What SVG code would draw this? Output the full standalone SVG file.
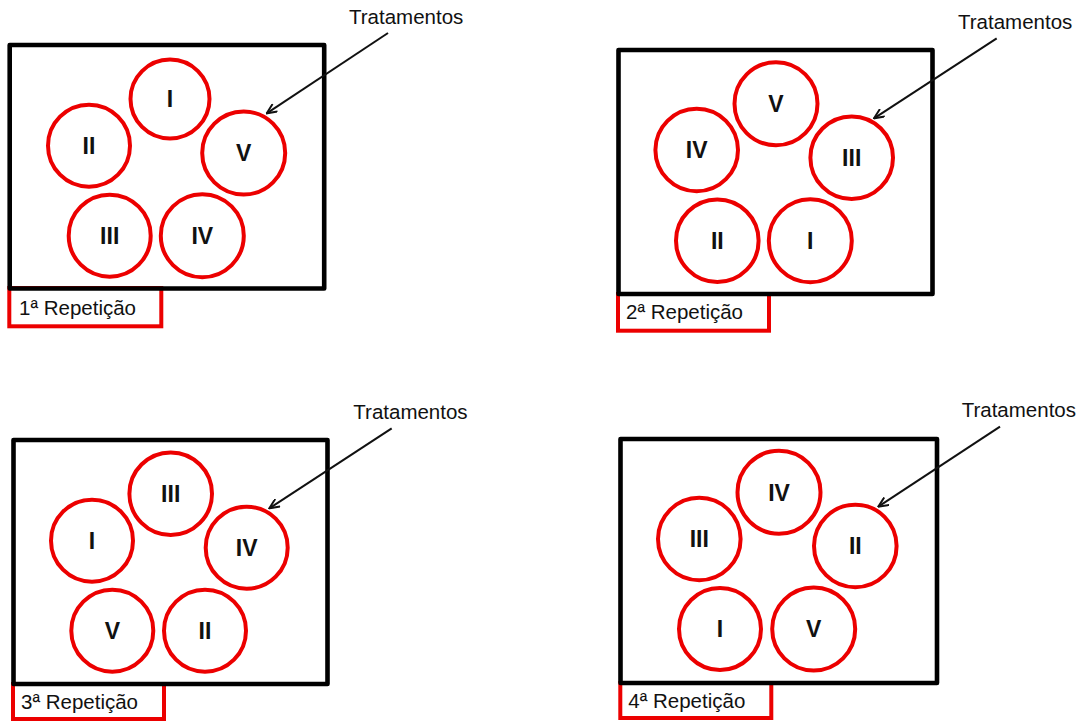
<svg xmlns="http://www.w3.org/2000/svg" width="1086" height="721" viewBox="0 0 1086 721">
  <style>
    .plot { fill: none; stroke: #000; stroke-width: 4.6; stroke-linejoin: round; }
    .tag { fill: #fff; stroke: #ec0000; stroke-width: 4; }
    .trt { fill: none; stroke: #ec0000; stroke-width: 4; }
    .num { font-family: "Liberation Sans", Arial, sans-serif; font-weight: bold; font-size: 23px; fill: #111; text-anchor: middle; }
    .lbl { font-family: "Liberation Sans", Arial, sans-serif; font-size: 20.5px; fill: #111; }
    .ptr { fill: none; stroke: #111; stroke-width: 2; marker-end: url(#barb); }
  </style>
  <defs>
    <marker id="barb" viewBox="0 0 12 10" refX="11" refY="5" markerWidth="12" markerHeight="10" markerUnits="userSpaceOnUse" orient="auto">
      <path d="M1,0.5 L11,5 L1,9.5" fill="none" stroke="#111" stroke-width="2"/>
    </marker>
  </defs>
  <rect width="1086" height="721" fill="#fff"/>

  <!-- Replicate 1 -->
  <g id="rep1">
    <rect class="tag" x="9.3" y="288" width="152" height="38.3"/>
    <text class="lbl" x="19" y="315">1ª Repetição</text>
    <rect class="plot" x="9.7" y="45" width="314.5" height="243.5"/>
    <g id="rep1-I"><circle class="trt" cx="170" cy="99" r="39.5"/><text class="num" x="170" y="107.3">I</text></g>
    <g id="rep1-II"><circle class="trt" cx="89" cy="145.7" r="41"/><text class="num" x="89" y="154">II</text></g>
    <g id="rep1-V"><circle class="trt" cx="243.7" cy="153" r="41.5"/><text class="num" x="243.7" y="161.3">V</text></g>
    <g id="rep1-III"><circle class="trt" cx="109.7" cy="235.7" r="41"/><text class="num" x="109.7" y="244">III</text></g>
    <g id="rep1-IV"><circle class="trt" cx="202.3" cy="235.7" r="41.5"/><text class="num" x="202.3" y="244">IV</text></g>
    <text class="lbl" id="rep1-title" x="349" y="24">Tratamentos</text>
  </g>

  <!-- Replicate 2 -->
  <g id="rep2">
    <rect class="tag" x="618" y="294" width="151" height="36.7"/>
    <text class="lbl" x="626" y="319">2ª Repetição</text>
    <rect class="plot" x="618.5" y="50" width="314" height="244"/>
    <g id="rep2-V"><circle class="trt" cx="776" cy="103.7" r="41.5"/><text class="num" x="776" y="112">V</text></g>
    <g id="rep2-IV"><circle class="trt" cx="696.7" cy="150" r="41.3"/><text class="num" x="696.7" y="158.3">IV</text></g>
    <g id="rep2-III"><circle class="trt" cx="851.7" cy="157.7" r="41.3"/><text class="num" x="851.7" y="166">III</text></g>
    <g id="rep2-II"><circle class="trt" cx="717.3" cy="240.7" r="41.3"/><text class="num" x="717.3" y="249">II</text></g>
    <g id="rep2-I"><circle class="trt" cx="810.3" cy="240.7" r="41.5"/><text class="num" x="810.3" y="249">I</text></g>
    <text class="lbl" id="rep2-title" x="958" y="29">Tratamentos</text>
  </g>

  <!-- Replicate 3 -->
  <g id="rep3">
    <rect class="tag" x="13" y="684" width="151" height="35"/>
    <text class="lbl" x="21" y="709.3">3ª Repetição</text>
    <rect class="plot" x="13.5" y="440" width="314" height="244"/>
    <g id="rep3-III"><circle class="trt" cx="170.7" cy="493.7" r="41.3"/><text class="num" x="170.7" y="502">III</text></g>
    <g id="rep3-I"><circle class="trt" cx="92" cy="540.7" r="41"/><text class="num" x="92" y="549">I</text></g>
    <g id="rep3-IV"><circle class="trt" cx="246.7" cy="547.7" r="41"/><text class="num" x="246.7" y="556">IV</text></g>
    <g id="rep3-V"><circle class="trt" cx="112.3" cy="630.7" r="41"/><text class="num" x="112.3" y="639">V</text></g>
    <g id="rep3-II"><circle class="trt" cx="205" cy="630.7" r="41"/><text class="num" x="205" y="639">II</text></g>
    <text class="lbl" id="rep3-title" x="353.3" y="419">Tratamentos</text>
  </g>

  <!-- Replicate 4 -->
  <g id="rep4">
    <rect class="tag" x="620.3" y="683" width="151" height="35"/>
    <text class="lbl" x="628.3" y="707.7">4ª Repetição</text>
    <rect class="plot" x="620.5" y="439" width="316.5" height="244"/>
    <g id="rep4-IV"><circle class="trt" cx="779" cy="492.3" r="41.5"/><text class="num" x="779" y="500.6">IV</text></g>
    <g id="rep4-III"><circle class="trt" cx="699.3" cy="539" r="41.3"/><text class="num" x="699.3" y="547.3">III</text></g>
    <g id="rep4-II"><circle class="trt" cx="855.3" cy="546" r="41.3"/><text class="num" x="855.3" y="554.3">II</text></g>
    <g id="rep4-I"><circle class="trt" cx="720" cy="629" r="41"/><text class="num" x="720" y="637.3">I</text></g>
    <g id="rep4-V"><circle class="trt" cx="813.7" cy="629" r="41.5"/><text class="num" x="813.7" y="637.3">V</text></g>
    <text class="lbl" id="rep4-title" x="961.7" y="416.7">Tratamentos</text>
  </g>

  <!-- Pointers from each title to its plot -->
  <g id="connectors">
    <line class="ptr" x1="388" y1="33" x2="266.7" y2="113.3"/>
    <line class="ptr" x1="996.7" y1="38.3" x2="874" y2="118.3"/>
    <line class="ptr" x1="391.7" y1="428.3" x2="269.3" y2="508.3"/>
    <line class="ptr" x1="1000" y1="426.7" x2="878.3" y2="506.7"/>
  </g>
</svg>
